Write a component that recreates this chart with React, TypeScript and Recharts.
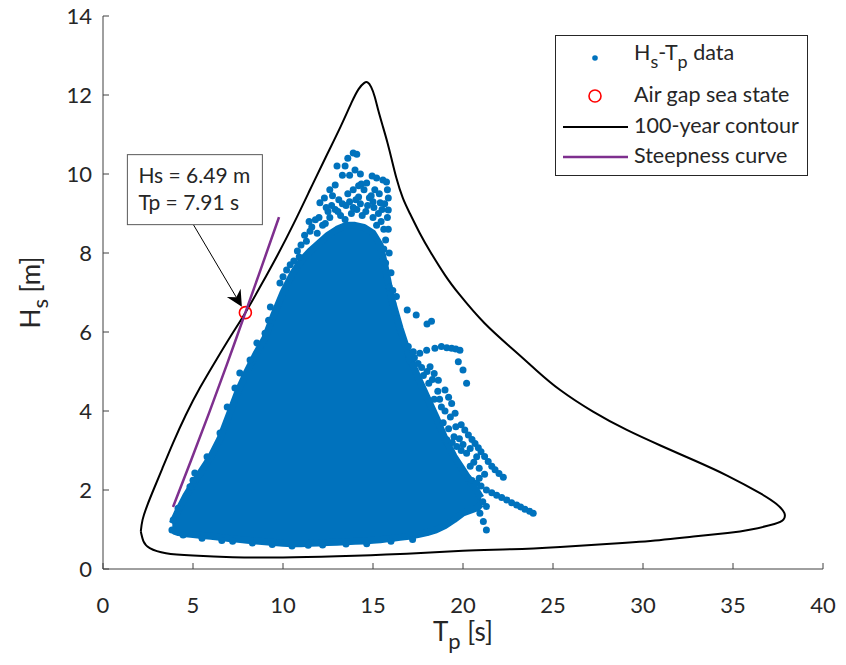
import React from 'react';
import { ComposedChart, XAxis, YAxis, Area, Scatter, Legend } from 'recharts';

const W = 846;
const H = 665;
const FONT = 'Lato, "Open Sans", "DejaVu Sans", sans-serif';
const INK = '#262626';
const AXIS_INK = '#404040';
const DATA_BLUE = '#0072BD';
const STEEP_PURPLE = '#7E2F8E';
const AIRGAP_RED = '#FF0000';

const tpTicks = [0, 5, 10, 15, 20, 25, 30, 35, 40];
const hsTicks = [0, 2, 4, 6, 8, 10, 12, 14];

// Dense body of the Hs-Tp record: Hs range covered at each Tp
const bodyTp = [3.85, 4.0, 4.2, 4.6, 5.0, 5.5, 6.0, 6.5, 7.0, 7.5, 8.0, 8.5, 9.0, 9.5, 10.0, 10.5, 11.0, 11.5, 12.0, 12.5, 13.0, 13.5, 14.0, 14.5, 15.0, 15.4, 15.7, 16.0, 16.5, 17.0, 17.5, 18.0, 18.5, 19.0, 19.5, 20.0, 20.5, 20.8, 21.0];
const bodyHsLow = [1.02, 0.95, 0.92, 0.89, 0.87, 0.85, 0.83, 0.8, 0.77, 0.75, 0.73, 0.71, 0.69, 0.67, 0.65, 0.64, 0.64, 0.65, 0.66, 0.67, 0.68, 0.69, 0.7, 0.71, 0.73, 0.74, 0.76, 0.77, 0.8, 0.83, 0.87, 0.92, 0.99, 1.1, 1.25, 1.42, 1.5, 1.55, 1.65];
const bodyHsHigh = [1.15, 1.3, 1.5, 1.85, 2.15, 2.5, 2.85, 3.3, 3.9, 4.5, 5.0, 5.45, 5.85, 6.45, 7.0, 7.45, 7.8, 8.05, 8.25, 8.45, 8.6, 8.7, 8.7, 8.65, 8.5, 8.2, 7.6, 6.9, 6.1, 5.4, 4.85, 4.35, 3.85, 3.3, 2.85, 2.5, 2.15, 1.95, 1.8];

// Sparse sea states around the dense body [Tp, Hs]
const outerRecords: [number, number][] = [
  // upper tip of the cloud
  [13.9, 10.53], [13.6, 10.4], [14.1, 10.5], [14.0, 10.1], [13.7, 9.97], [13.3, 9.97],
  [12.9, 9.72], [14.65, 9.77], [15.2, 9.9], [15.55, 9.85], [15.75, 9.8], [15.8, 9.6],
  [15.85, 9.39], [15.85, 9.09], [15.8, 8.9], [14.2, 9.42], [13.9, 9.6], [12.3, 9.39],
  [12.05, 9.27], [15.4, 9.27], [15.3, 9.0], [11.6, 8.66], [11.8, 8.84], [12.6, 8.9],
  [12.9, 9.1], [13.2, 8.95], [13.5, 9.2], [13.8, 9.0], [14.1, 9.1], [14.4, 8.95],
  [14.7, 9.2], [15.0, 8.9], [14.9, 9.45], [13.1, 9.35], [12.5, 9.05], [12.2, 8.7],
  [11.9, 8.5], [14.5, 9.6], [13.6, 9.5], [15.2, 8.7], [15.6, 8.6], [15.7, 8.33],
  [15.7, 7.75], [15.9, 7.14], [16.1, 6.73], [16.3, 6.9], [16.9, 6.56], [17.4, 6.43],
  [18.0, 6.2], [18.25, 6.27], [11.3, 8.3], [10.6, 7.8],
  [11.2, 8.45], [11.5, 8.55], [12.0, 8.9], [12.35, 8.75], [12.7, 9.2], [13.05, 9.05],
  [13.3, 9.25], [13.45, 8.85], [13.7, 9.3], [13.9, 9.15], [14.05, 9.35], [14.3, 9.25],
  [14.35, 9.75], [14.6, 9.05], [14.8, 9.4], [15.05, 9.15], [15.1, 9.6], [15.35, 9.5],
  [15.5, 9.1], [15.45, 8.8], [15.65, 9.25], [15.6, 8.1], [15.85, 8.6], [15.9, 8.0],
  [16.0, 7.5], [16.1, 7.05], [12.6, 9.6], [13.0, 10.2], [13.45, 10.2], [14.3, 10.0],
  [14.95, 9.95], [12.4, 9.15], [11.0, 8.2], [10.8, 8.05], [10.4, 7.7], [11.45, 8.8],
  [12.75, 9.45], [14.2, 9.7], [15.0, 9.3], [16.2, 6.5],
  // left edge
  [10.0, 7.4], [9.83, 7.24], [10.2, 7.57], [10.9, 7.9], [9.3, 6.63], [9.2, 6.3],
  [9.0, 5.97], [8.55, 5.72], [8.17, 5.29], [7.6, 4.96], [7.33, 4.58], [6.9, 4.1],
  [6.5, 3.44], [5.78, 2.84], [5.1, 2.43], [4.83, 2.08], [5.0, 2.25], [4.17, 1.54],
  [3.9, 1.24], [3.83, 0.99], [4.45, 0.86],
  // lower edge
  [5.5, 0.78], [6.6, 0.72], [7.2, 0.7], [8.3, 0.66], [9.4, 0.62], [10.5, 0.58],
  [11.4, 0.6], [12.2, 0.61], [13.5, 0.63], [14.65, 0.64], [16.0, 0.7], [17.2, 0.75],
  // long-period swell tails
  [16.96, 5.63], [17.24, 5.5], [17.6, 5.46], [17.98, 5.54], [18.44, 5.59], [18.8, 5.63],
  [19.1, 5.6], [19.37, 5.59], [19.6, 5.57], [19.83, 5.54], [19.74, 5.25], [20.0, 5.04],
  [20.2, 4.7],
  [18.17, 5.12], [18.4, 4.95], [18.63, 4.78], [19.0, 4.53], [19.2, 4.35], [19.37, 4.19],
  [19.56, 3.94], [19.9, 3.65], [20.1, 3.52], [20.3, 3.39], [20.5, 3.28], [20.67, 3.18],
  [20.85, 3.07], [21.0, 2.97], [21.2, 2.85], [21.4, 2.72], [21.6, 2.6], [21.78, 2.51],
  [22.0, 2.42], [22.24, 2.32],
  [19.1, 3.27], [19.4, 3.2], [19.65, 3.1], [19.9, 3.0], [20.2, 2.93], [20.76, 2.84],
  [17.3, 5.35], [17.5, 5.2], [17.8, 4.9], [18.1, 4.7], [18.4, 4.3], [18.8, 4.1],
  [18.9, 3.7], [19.2, 3.55],
  [17.0, 5.3], [17.7, 5.1], [18.0, 5.0], [18.3, 4.8], [18.6, 4.5], [18.7, 4.3],
  [19.0, 4.0], [19.3, 3.85], [19.6, 3.6], [19.5, 3.35], [19.8, 3.3], [20.0, 3.15],
  [20.4, 3.05], [20.6, 2.7], [20.9, 2.55], [21.2, 2.4], [20.4, 2.6], [20.9, 2.3],
  [20.3, 2.3], [20.5, 2.24], [20.76, 2.17], [21.0, 2.1], [21.3, 2.0], [21.6, 1.93],
  [21.87, 1.87], [22.15, 1.81], [22.43, 1.75], [22.7, 1.68], [22.98, 1.62], [23.2, 1.57],
  [23.44, 1.51], [23.7, 1.46], [23.9, 1.41],
  [20.94, 1.41], [21.13, 1.2], [21.3, 0.99], [21.3, 1.58], [21.1, 1.7],
];

// 100-year environmental contour (closed)
const contourTp = [2.1, 2.2, 2.45, 2.8, 3.3, 3.9, 4.6, 5.4, 6.3, 7.1, 7.91, 8.8, 9.7, 10.6, 11.5, 12.4, 13.2, 13.8, 14.2, 14.5, 14.7, 14.9, 15.1, 15.3, 15.55, 15.8, 16.05, 16.3, 16.65, 17.05, 17.6, 18.2, 19.0, 19.8, 21.2, 22.8, 24.1, 25.4, 27.2, 29.1, 31.0, 32.8, 34.7, 36.5, 37.4, 37.85, 37.8, 37.3, 36.0, 34.7, 32.8, 30.9, 28.2, 25.4, 22.7, 20.0, 16.5, 13.0, 10.0, 7.2, 5.0, 3.5, 2.6, 2.25, 2.1];
const contourHs = [0.95, 1.25, 1.6, 2.0, 2.55, 3.2, 3.9, 4.6, 5.3, 5.9, 6.49, 7.2, 7.95, 8.75, 9.6, 10.45, 11.2, 11.8, 12.15, 12.3, 12.32, 12.2, 11.95, 11.6, 11.2, 10.8, 10.35, 9.9, 9.4, 9.0, 8.5, 8.02, 7.44, 6.95, 6.22, 5.55, 5.02, 4.53, 3.99, 3.52, 3.12, 2.76, 2.36, 1.92, 1.65, 1.42, 1.25, 1.14, 1.0, 0.91, 0.82, 0.73, 0.64, 0.56, 0.5, 0.46, 0.38, 0.32, 0.29, 0.3, 0.34, 0.4, 0.53, 0.7, 0.95];

// Wave steepness limit
const steepTp = [3.89, 4.9, 5.9, 6.9, 7.91, 8.85, 9.78];
const steepHs = [1.57, 2.76, 3.96, 5.2, 6.49, 7.7, 8.91];

// Governing sea state for the air gap check
const airGapTp = 7.91;
const airGapHs = 6.49;

const seriesNames = ['data', 'Air gap sea state', '100-year contour', 'Steepness curve'];

const bodyData = bodyTp.map((tp, i) => ({ tp, band: [bodyHsLow[i], bodyHsHigh[i]] }));
const recordData = outerRecords.map(([tp, hs]) => ({ tp, hs }));
const contourData = contourTp.map((tp, i) => ({ tp, hs: contourHs[i] }));
const steepData = steepTp.map((tp, i) => ({ tp, hs: steepHs[i] }));
const airGapData = [{ tp: airGapTp, hs: airGapHs }];

const textStyle = { fontFamily: FONT, fill: INK };

const renderBottomTick = (p: any) => (
  <g>
    <line x1={p.x} x2={p.x} y1={p.y} y2={p.y - 6} stroke={AXIS_INK} strokeWidth={1} />
    <text x={p.x} y={p.y + 44} textAnchor="middle" fontSize={22} {...textStyle}>
      {p.payload.value}
    </text>
  </g>
);

const renderLeftTick = (p: any) => (
  <g>
    <line x1={p.x} x2={p.x + 6} y1={p.y} y2={p.y} stroke={AXIS_INK} strokeWidth={1} />
    <text x={p.x - 11} y={p.y + 8} textAnchor="end" fontSize={22} {...textStyle}>
      {p.payload.value}
    </text>
  </g>
);

const renderTopTick = (p: any) => (
  <line x1={p.x} x2={p.x} y1={p.y} y2={p.y + 6} stroke={AXIS_INK} strokeWidth={1} />
);

const renderRightTick = (p: any) => (
  <line x1={p.x} x2={p.x - 6} y1={p.y} y2={p.y} stroke={AXIS_INK} strokeWidth={1} />
);

const renderXTitle = (p: any) => {
  const vb = p.viewBox || { x: 103, y: 569, width: 720, height: 96 };
  return (
    <text x={vb.x + vb.width / 2} y={vb.y + 72} textAnchor="middle" fontSize={26} {...textStyle}>
      T<tspan dy={8} fontSize={22}>p</tspan>
      <tspan dy={-8}> [s]</tspan>
    </text>
  );
};

const renderYTitle = (p: any) => {
  const vb = p.viewBox || { x: 0, y: 16, width: 103, height: 553 };
  const bx = vb.x + 40;
  const by = vb.y + vb.height / 2;
  return (
    <text transform={`translate(${bx},${by}) rotate(-90)`} textAnchor="middle" fontSize={26} {...textStyle}>
      H<tspan dy={8} fontSize={22}>s</tspan>
      <tspan dy={-8}> [m]</tspan>
    </text>
  );
};

const renderRecord = (p: any) => <circle cx={p.cx} cy={p.cy} r={3.5} fill={DATA_BLUE} />;
const renderNothing = () => <g />;

const renderAirGap = (p: any) => {
  const { cx, cy } = p;
  const tail = { x: cx - 52, y: cy - 88 };
  const tip = { x: cx - 3.5, y: cy - 6 };
  const len = Math.hypot(tip.x - tail.x, tip.y - tail.y);
  const ux = (tip.x - tail.x) / len;
  const uy = (tip.y - tail.y) / len;
  const headLen = 16;
  const half = 8;
  const notch = 11;
  const bx = tip.x - ux * headLen;
  const by = tip.y - uy * headLen;
  const nx = tip.x - ux * notch;
  const ny = tip.y - uy * notch;
  const head = `${tip.x},${tip.y} ${bx - uy * half},${by + ux * half} ${nx},${ny} ${bx + uy * half},${by - ux * half}`;
  return (
    <g>
      <circle cx={cx} cy={cy} r={6} fill="none" stroke={AIRGAP_RED} strokeWidth={1.6} />
      <line x1={tail.x} y1={tail.y} x2={nx} y2={ny} stroke="#000" strokeWidth={1} />
      <polygon points={head} fill="#000" />
      <rect x={cx - 118} y={cy - 158} width={135} height={70} fill="#fff" stroke="#595959" strokeWidth={1} />
      <text x={cx - 107} y={cy - 130} fontSize={21} {...textStyle}>
        {`Hs = ${airGapHs.toFixed(2)} m`}
      </text>
      <text x={cx - 107} y={cy - 103} fontSize={21} {...textStyle}>
        {`Tp = ${airGapTp.toFixed(2)} s`}
      </text>
    </g>
  );
};

const renderLegend = () => (
  <svg width={253} height={141} style={{ display: 'block' }}>
    <rect x={0.5} y={0.5} width={252} height={140} fill="#fff" stroke={INK} strokeWidth={1} />
    <circle cx={40} cy={23} r={2.8} fill={DATA_BLUE} />
    <text x={79} y={25} fontSize={21.5} {...textStyle}>
      H<tspan dy={8} fontSize={18}>s</tspan>
      <tspan dy={-8}>-T</tspan>
      <tspan dy={8} fontSize={18}>p</tspan>
      <tspan dy={-8}> {seriesNames[0]}</tspan>
    </text>
    <circle cx={40} cy={61} r={6} fill="none" stroke={AIRGAP_RED} strokeWidth={1.6} />
    <text x={79} y={67} fontSize={21.5} {...textStyle}>{seriesNames[1]}</text>
    <line x1={8} x2={73} y1={92} y2={92} stroke="#000" strokeWidth={2} />
    <text x={79} y={98} fontSize={21.5} {...textStyle}>{seriesNames[2]}</text>
    <line x1={8} x2={73} y1={122} y2={122} stroke={STEEP_PURPLE} strokeWidth={2.5} />
    <text x={79} y={128} fontSize={21.5} {...textStyle}>{seriesNames[3]}</text>
  </svg>
);

export default function App() {
  return (
    <div style={{ position: 'absolute', left: 0, top: 0, width: W, height: H, background: '#fff' }}>
      <ComposedChart width={W} height={H} data={bodyData} margin={{ top: 16, right: 23, bottom: 0, left: 0 }}>
        <XAxis
          dataKey="tp"
          type="number"
          domain={[0, 40]}
          ticks={tpTicks}
          interval={0}
          allowDataOverflow
          height={96}
          tickSize={0}
          tickMargin={0}
          tickLine={false}
          axisLine={{ stroke: AXIS_INK, strokeWidth: 1 }}
          tick={renderBottomTick}
          label={renderXTitle}
        />
        <YAxis
          dataKey="hs"
          type="number"
          domain={[0, 14]}
          ticks={hsTicks}
          interval={0}
          allowDataOverflow
          width={103}
          tickSize={0}
          tickMargin={0}
          tickLine={false}
          axisLine={{ stroke: AXIS_INK, strokeWidth: 1 }}
          tick={renderLeftTick}
          label={renderYTitle}
        />
        <XAxis
          xAxisId="top"
          orientation="top"
          type="number"
          domain={[0, 40]}
          ticks={tpTicks}
          interval={0}
          allowDataOverflow
          height={0}
          tickSize={0}
          tickMargin={0}
          tickLine={false}
          axisLine={{ stroke: AXIS_INK, strokeWidth: 1 }}
          tick={renderTopTick}
        />
        <YAxis
          yAxisId="right"
          orientation="right"
          type="number"
          domain={[0, 14]}
          ticks={hsTicks}
          interval={0}
          allowDataOverflow
          width={0}
          tickSize={0}
          tickMargin={0}
          tickLine={false}
          axisLine={{ stroke: AXIS_INK, strokeWidth: 1 }}
          tick={renderRightTick}
        />
        <Area
          dataKey="band"
          type="linear"
          fill={DATA_BLUE}
          fillOpacity={1}
          stroke={DATA_BLUE}
          strokeWidth={7}
          strokeLinejoin="round"
          dot={false}
          activeDot={false}
          isAnimationActive={false}
        />
        <Scatter data={recordData} dataKey="hs" shape={renderRecord} isAnimationActive={false} />
        <Scatter
          data={contourData}
          dataKey="hs"
          line={{ stroke: '#000', strokeWidth: 2 }}
          lineType="joint"
          lineJointType="natural"
          shape={renderNothing}
          isAnimationActive={false}
        />
        <Scatter data={airGapData} dataKey="hs" shape={renderAirGap} isAnimationActive={false} />
        <Scatter
          data={steepData}
          dataKey="hs"
          line={{ stroke: STEEP_PURPLE, strokeWidth: 2.5 }}
          lineType="joint"
          lineJointType="natural"
          shape={renderNothing}
          isAnimationActive={false}
        />
        <Legend
          content={renderLegend}
          layout="horizontal"
          verticalAlign="middle"
          align="center"
          wrapperStyle={{ left: 555, top: 35, width: 253, height: 141 }}
        />
      </ComposedChart>
    </div>
  );
}
